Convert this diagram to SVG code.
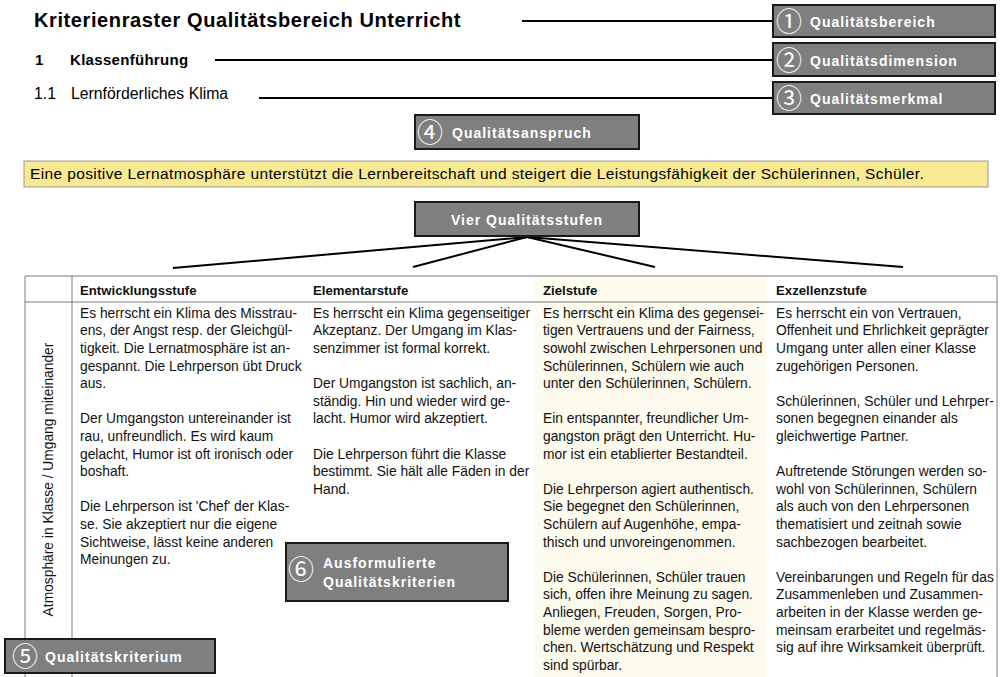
<svg xmlns="http://www.w3.org/2000/svg" width="1006" height="677" viewBox="0 0 1006 677">
<style>
.t{font-family:"Liberation Sans",Arial,sans-serif;fill:#000}
.lbl{font-family:"Liberation Sans",Arial,sans-serif;font-weight:bold;font-size:14px;letter-spacing:1px;fill:#fff}
.num{font-family:"Noto Sans CJK JP",sans-serif;font-size:26px;fill:#fff;text-anchor:middle}
.box{fill:#7f7f7f;stroke:#1a1a1a;stroke-width:2}
.ln{stroke:#000;stroke-width:2;fill:none}
.grid{stroke:#7a7a7a;stroke-width:1;fill:none}
.body{font-family:"Liberation Sans",Arial,sans-serif;font-size:13.8px;fill:#111}
.hd{font-family:"Liberation Sans",Arial,sans-serif;font-size:13.2px;font-weight:bold;fill:#111}
</style>
<rect width="1006" height="677" fill="#fff"/>

<g id="header-text">
<text class="t" x="34" y="27" font-size="20" font-weight="bold" letter-spacing="0.6">Kriterienraster Qualitätsbereich Unterricht</text>
<text class="t" x="35" y="65" font-size="15" font-weight="bold">1</text>
<text class="t" x="70" y="65" font-size="15" font-weight="bold" letter-spacing="0.3">Klassenführung</text>
<text class="t" x="34" y="99" font-size="15.8">1.1</text>
<text class="t" x="71" y="99" font-size="15.8">Lernförderliches Klima</text>
</g>

<g id="connectors">
<line class="ln" x1="522" y1="21" x2="773" y2="21"/>
<line class="ln" x1="215" y1="60" x2="773" y2="60"/>
<line class="ln" x1="259" y1="98" x2="773" y2="98"/>
<line class="ln" x1="527" y1="237" x2="173" y2="268"/>
<line class="ln" x1="527" y1="237" x2="413" y2="267"/>
<line class="ln" x1="527" y1="237" x2="655" y2="267"/>
<line class="ln" x1="527" y1="237" x2="903" y2="267"/>
</g>

<g id="anspruch">
<rect x="24" y="161" width="964" height="26" fill="#f8ea92" stroke="#9a9a9a" stroke-width="1"/>
<text class="t" x="30" y="179" font-size="15.5" letter-spacing="0.38">Eine positive Lernatmosphäre unterstützt die Lernbereitschaft und steigert die Leistungsfähigkeit der Schülerinnen, Schüler.</text>
</g>

<g id="table">
<rect x="535" y="276" width="232" height="401" fill="#fdfaee"/>
<line class="grid" x1="25" y1="276" x2="997" y2="276"/>
<line class="grid" x1="25" y1="302" x2="997" y2="302"/>
<line class="grid" x1="25" y1="276" x2="25" y2="677"/>
<line class="grid" x1="72" y1="276" x2="72" y2="677"/>
<line class="grid" x1="997" y1="276" x2="997" y2="677"/>
<text class="hd" x="80" y="294.5">Entwicklungsstufe</text>
<text class="hd" x="313" y="294.5">Elementarstufe</text>
<text class="hd" x="543" y="294.5">Zielstufe</text>
<text class="hd" x="776" y="294.5">Exzellenzstufe</text>
<text class="body" transform="translate(53,479.5) rotate(-90)" text-anchor="middle" font-size="12.1">Atmosphäre in Klasse / Umgang miteinander</text>
<text class="body" x="80" y="317.7">
<tspan x="80">Es herrscht ein Klima des Misstrau-</tspan>
<tspan x="80" dy="17.6">ens, der Angst resp. der Gleichgül-</tspan>
<tspan x="80" dy="17.6">tigkeit. Die Lernatmosphäre ist an-</tspan>
<tspan x="80" dy="17.6">gespannt. Die Lehrperson übt Druck</tspan>
<tspan x="80" dy="17.6">aus.</tspan>
<tspan x="80" dy="35.2">Der Umgangston untereinander ist</tspan>
<tspan x="80" dy="17.6">rau, unfreundlich. Es wird kaum</tspan>
<tspan x="80" dy="17.6">gelacht, Humor ist oft ironisch oder</tspan>
<tspan x="80" dy="17.6">boshaft.</tspan>
<tspan x="80" dy="35.2">Die Lehrperson ist 'Chef' der Klas-</tspan>
<tspan x="80" dy="17.6">se. Sie akzeptiert nur die eigene</tspan>
<tspan x="80" dy="17.6">Sichtweise, lässt keine anderen</tspan>
<tspan x="80" dy="17.6">Meinungen zu.</tspan>
</text>
<text class="body" x="313" y="317.7">
<tspan x="313">Es herrscht ein Klima gegenseitiger</tspan>
<tspan x="313" dy="17.6">Akzeptanz. Der Umgang im Klas-</tspan>
<tspan x="313" dy="17.6">senzimmer ist formal korrekt.</tspan>
<tspan x="313" dy="35.2">Der Umgangston ist sachlich, an-</tspan>
<tspan x="313" dy="17.6">ständig. Hin und wieder wird ge-</tspan>
<tspan x="313" dy="17.6">lacht. Humor wird akzeptiert.</tspan>
<tspan x="313" dy="35.2">Die Lehrperson führt die Klasse</tspan>
<tspan x="313" dy="17.6">bestimmt. Sie hält alle Fäden in der</tspan>
<tspan x="313" dy="17.6">Hand.</tspan>
</text>
<text class="body" x="543" y="317.7">
<tspan x="543">Es herrscht ein Klima des gegensei-</tspan>
<tspan x="543" dy="17.6">tigen Vertrauens und der Fairness,</tspan>
<tspan x="543" dy="17.6">sowohl zwischen Lehrpersonen und</tspan>
<tspan x="543" dy="17.6">Schülerinnen, Schülern wie auch</tspan>
<tspan x="543" dy="17.6">unter den Schülerinnen, Schülern.</tspan>
<tspan x="543" dy="35.2">Ein entspannter, freundlicher Um-</tspan>
<tspan x="543" dy="17.6">gangston prägt den Unterricht. Hu-</tspan>
<tspan x="543" dy="17.6">mor ist ein etablierter Bestandteil.</tspan>
<tspan x="543" dy="35.2">Die Lehrperson agiert authentisch.</tspan>
<tspan x="543" dy="17.6">Sie begegnet den Schülerinnen,</tspan>
<tspan x="543" dy="17.6">Schülern auf Augenhöhe, empa-</tspan>
<tspan x="543" dy="17.6">thisch und unvoreingenommen.</tspan>
<tspan x="543" dy="35.2">Die Schülerinnen, Schüler trauen</tspan>
<tspan x="543" dy="17.6">sich, offen ihre Meinung zu sagen.</tspan>
<tspan x="543" dy="17.6">Anliegen, Freuden, Sorgen, Pro-</tspan>
<tspan x="543" dy="17.6">bleme werden gemeinsam bespro-</tspan>
<tspan x="543" dy="17.6">chen. Wertschätzung und Respekt</tspan>
<tspan x="543" dy="17.6">sind spürbar.</tspan>
</text>
<text class="body" x="776" y="317.7">
<tspan x="776">Es herrscht ein von Vertrauen,</tspan>
<tspan x="776" dy="17.6">Offenheit und Ehrlichkeit geprägter</tspan>
<tspan x="776" dy="17.6">Umgang unter allen einer Klasse</tspan>
<tspan x="776" dy="17.6">zugehörigen Personen.</tspan>
<tspan x="776" dy="35.2">Schülerinnen, Schüler und Lehrper-</tspan>
<tspan x="776" dy="17.6">sonen begegnen einander als</tspan>
<tspan x="776" dy="17.6">gleichwertige Partner.</tspan>
<tspan x="776" dy="35.2">Auftretende Störungen werden so-</tspan>
<tspan x="776" dy="17.6">wohl von Schülerinnen, Schülern</tspan>
<tspan x="776" dy="17.6">als auch von den Lehrpersonen</tspan>
<tspan x="776" dy="17.6">thematisiert und zeitnah sowie</tspan>
<tspan x="776" dy="17.6">sachbezogen bearbeitet.</tspan>
<tspan x="776" dy="35.2">Vereinbarungen und Regeln für das</tspan>
<tspan x="776" dy="17.6">Zusammenleben und Zusammen-</tspan>
<tspan x="776" dy="17.6">arbeiten in der Klasse werden ge-</tspan>
<tspan x="776" dy="17.6">meinsam erarbeitet und regelmäs-</tspan>
<tspan x="776" dy="17.6">sig auf ihre Wirksamkeit überprüft.</tspan>
</text>
</g>

<g id="label1">
<rect class="box" x="773" y="5" width="222" height="32"/>
<text class="num" x="789" y="31">①</text>
<text class="lbl" x="810" y="26.5">Qualitätsbereich</text>
</g>
<g id="label2">
<rect class="box" x="773" y="43" width="222" height="33"/>
<text class="num" x="789" y="70">②</text>
<text class="lbl" x="810" y="65.5">Qualitätsdimension</text>
</g>
<g id="label3">
<rect class="box" x="773" y="82" width="222" height="32"/>
<text class="num" x="789" y="108">③</text>
<text class="lbl" x="810" y="103.5">Qualitätsmerkmal</text>
</g>
<g id="label4">
<rect class="box" x="415" y="115" width="224" height="34"/>
<text class="num" x="430" y="142">④</text>
<text class="lbl" x="452" y="137.5">Qualitätsanspruch</text>
</g>
<g id="stufen">
<rect class="box" x="415" y="202" width="224" height="34"/>
<text class="lbl" x="527" y="224.5" text-anchor="middle">Vier Qualitätsstufen</text>
</g>
<g id="label5">
<rect class="box" x="5" y="639" width="210" height="34"/>
<text class="num" x="25" y="666">⑤</text>
<text class="lbl" x="45" y="661.5">Qualitätskriterium</text>
</g>
<g id="label6">
<rect class="box" x="286" y="543" width="222" height="58"/>
<text class="num" x="301" y="579">⑥</text>
<text class="lbl" x="323" y="568">Ausformulierte</text>
<text class="lbl" x="323" y="587">Qualitätskriterien</text>
</g>
</svg>
